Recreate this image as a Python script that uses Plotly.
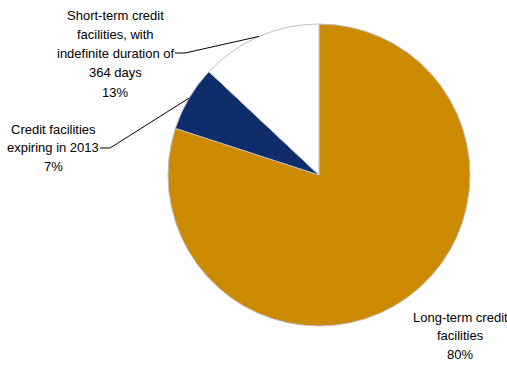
import math
import plotly.graph_objects as go

# Share of credit facilities by type (percent)
categories = [
    "Long-term credit facilities",
    "Credit facilities expiring in 2013",
    "Short-term credit facilities, with indefinite duration of 364 days",
]
shares = [80, 7, 13]
label_lines = [
    ["Long-term credit", "facilities", "80%"],
    ["Credit facilities", "expiring in 2013", "7%"],
    ["Short-term credit", "facilities, with", "indefinite duration of", "364 days", "13%"],
]
colors = ["#CC8A00", "#0F2D6B", "#FFFFFF"]

W, H = 507, 367
cx, cy, r = 319, 175, 151  # pie centre and radius in pixels

fig = go.Figure(
    go.Pie(
        labels=categories,
        values=shares,
        sort=False,
        direction="clockwise",
        rotation=0,
        marker=dict(colors=colors, line=dict(color="#BFBFBF", width=1)),
        textinfo="none",
        hoverinfo="label+percent",
        domain=dict(x=[(cx - r) / W, (cx + r) / W], y=[1 - (cy + r) / H, 1 - (cy - r) / H]),
        showlegend=False,
    )
)

FONT = dict(family="Liberation Sans, Arial, sans-serif", size=13, color="#000000")


def px_to_paper(x, y):
    return x / W, 1 - y / H


# mid-angle of each slice, measured clockwise from 12 o'clock
total = sum(shares)
mids = []
acc = 0
for v in shares:
    mids.append((acc + v / 2) / total * 2 * math.pi)
    acc += v


def edge_point(theta):
    return cx + r * math.sin(theta), cy - r * math.cos(theta)


# label block: centre x, first-line y, line step (pixels); leader-line start
label_pos = [(460, 317, 18.5), (53, 129, 19), (115, 15, 19.3)]
leader_start = [None, (100, 148), (175, 53)]

for i, lines in enumerate(label_lines):
    bx, by, step = label_pos[i]
    for j, line in enumerate(lines):
        lx, ly = px_to_paper(bx, by + j * step)
        fig.add_annotation(
            x=lx, y=ly, xref="paper", yref="paper", text=line, showarrow=False,
            xanchor="center", yanchor="middle", align="center", font=FONT,
        )
    if leader_start[i] is not None:
        sx, sy = leader_start[i]
        ex, ey = edge_point(mids[i])
        kx, ky = sx + 10, sy
        for (x0, y0, x1, y1) in [(sx, sy, kx, ky), (kx, ky, ex, ey)]:
            a0 = px_to_paper(x0, y0)
            a1 = px_to_paper(x1, y1)
            fig.add_shape(
                type="line", xref="paper", yref="paper",
                x0=a0[0], y0=a0[1], x1=a1[0], y1=a1[1],
                line=dict(color="#000000", width=1),
            )

fig.update_layout(
    width=W, height=H,
    margin=dict(l=0, r=0, t=0, b=0),
    paper_bgcolor="white",
    plot_bgcolor="white",
)

fig.write_html("out.html")
